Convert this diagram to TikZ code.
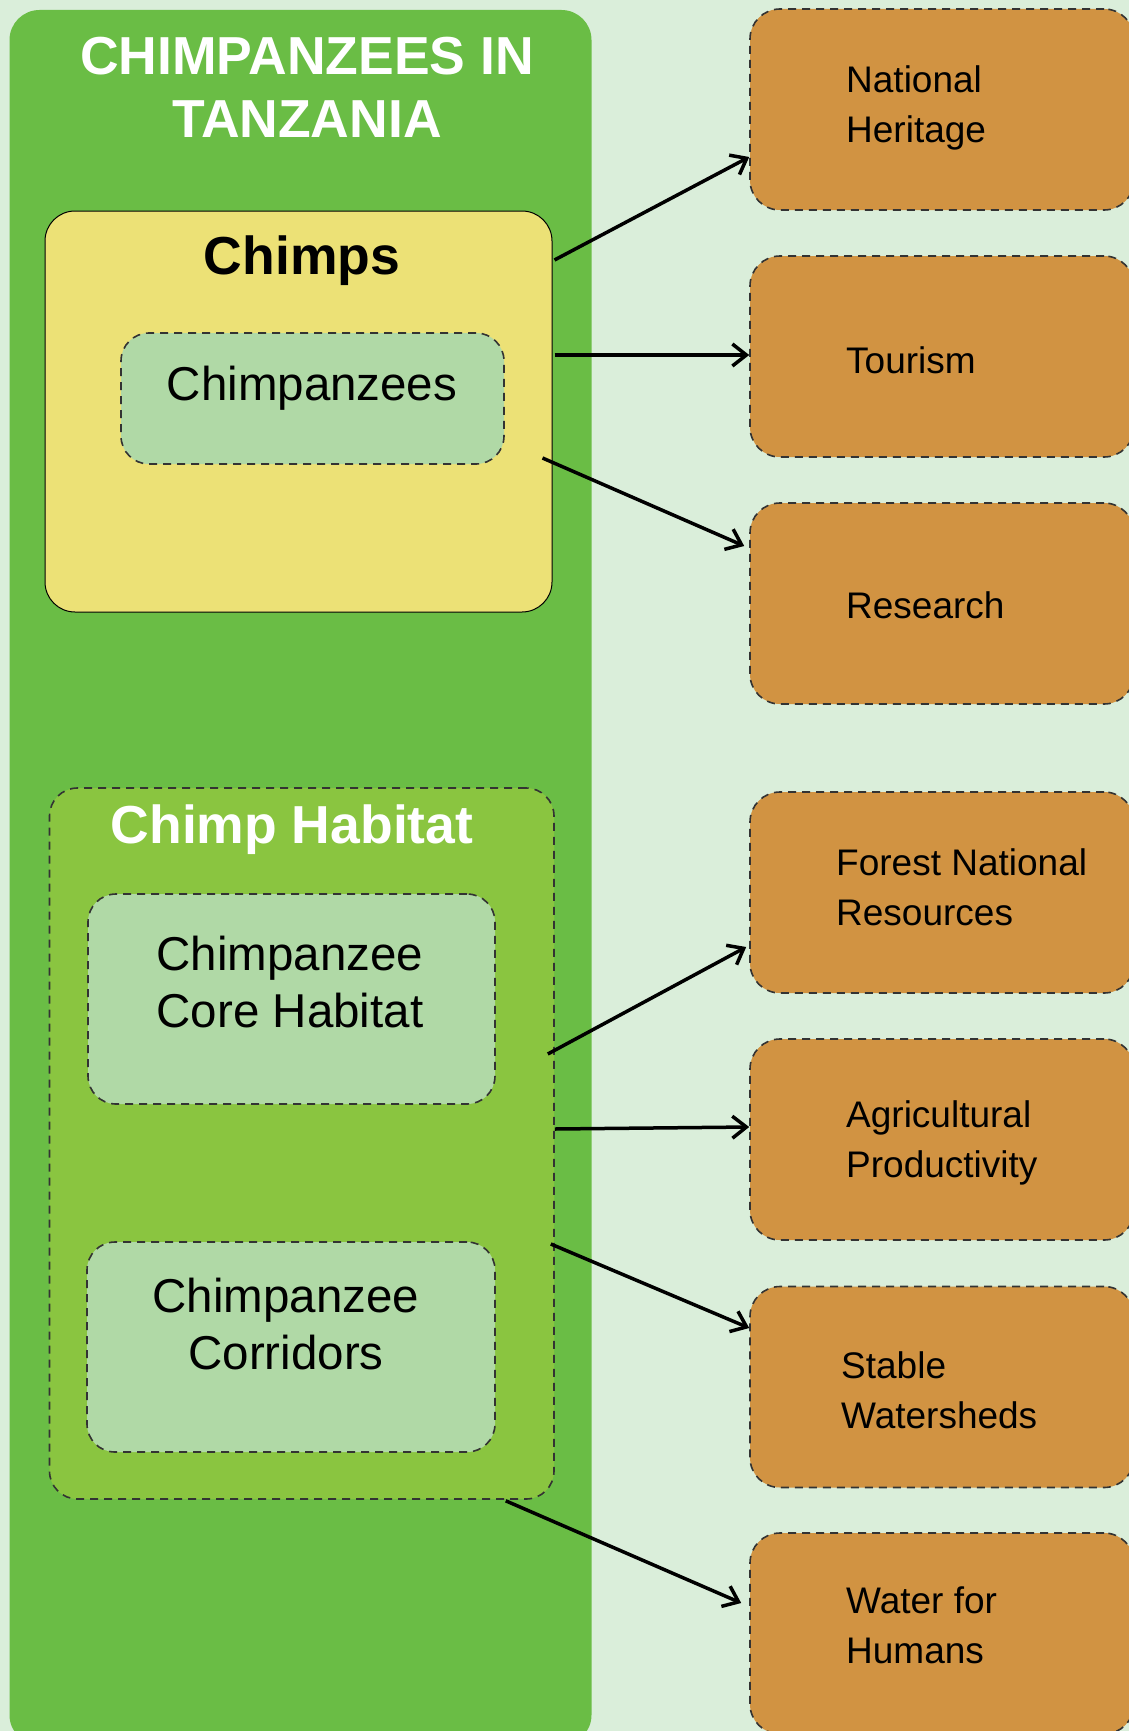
\documentclass[tikz,border=0pt]{standalone}
\usepackage{fontspec}
\setmainfont{Liberation Sans}
\usetikzlibrary{arrows.meta,calc}
\definecolor{bgc}{HTML}{DAEEDA}
\definecolor{maingreen}{HTML}{6ABD45}
\definecolor{chimpyellow}{HTML}{ECE176}
\definecolor{habgreen}{HTML}{8AC540}
\definecolor{palegreen}{HTML}{B0D9A6}
\definecolor{orangebox}{HTML}{D19342}
\definecolor{dashgray}{HTML}{333333}
\tikzset{
  boxbase/.style={rectangle, rounded corners=30pt, inner sep=0pt},
  mainbox/.style={boxbase, fill=maingreen},
  yellowbox/.style={boxbase, fill=chimpyellow, draw=black, line width=1pt},
  habbox/.style={boxbase, rounded corners=28pt, fill=habgreen, draw=dashgray, line width=1.6pt, dash pattern=on 8pt off 6pt},
  palebox/.style={boxbase, rounded corners=28pt, fill=palegreen, draw=dashgray, line width=1.6pt, dash pattern=on 8pt off 6pt},
  obox/.style={boxbase, fill=orangebox, draw=dashgray, line width=1.6pt, dash pattern=on 8pt off 6pt, minimum width=384pt, minimum height=201pt},
  bigtitle/.style={font=\fontsize{53.5}{63}\selectfont\bfseries, align=center, inner sep=0pt, anchor=base},
  innertext/.style={font=\fontsize{47.5}{57}\selectfont, align=center, inner sep=0pt, anchor=base},
  otext/.style={font=\fontsize{37}{50}\selectfont, align=left, inner sep=0pt, anchor=base west},
  conn/.style={-{Straight Barb[length=14pt,width=22pt,line width=3.5pt]}, line width=3.5pt, black},
}
\begin{document}
\begin{tikzpicture}[x=1pt,y=-1pt]
\useasboundingbox (0,0) rectangle (1129,1731);
\clip (0,0) rectangle (1129,1731);
\fill[bgc] (0,0) rectangle (1129,1731);

% left column
\node[mainbox, minimum width=582pt, minimum height=1735pt] (main) at (300.5,877.5) {};
\node[bigtitle, text=white] (title) at (307,138) {CHIMPANZEES IN\\TANZANIA};

\node[yellowbox, minimum width=507pt, minimum height=401pt] (chimps) at (298.5,411.5) {};
\node[bigtitle, text=black] (chimpstitle) at (302,274) {Chimps};
\node[palebox, minimum width=383pt, minimum height=131pt] (chimpbox) at (312.5,398.5) {};
\node[innertext] (chimptext) at (312,400) {Chimpanzees};

\node[habbox, minimum width=504.5pt, minimum height=711pt] (habitat) at (301.75,1143.5) {};
\node[bigtitle, text=white] (habtitle) at (292,843) {Chimp Habitat};
\node[palebox, minimum width=407pt, minimum height=210pt] (core) at (291.5,999) {};
\node[innertext] (coretext) at (290,1027) {Chimpanzee\\Core Habitat};
\node[palebox, minimum width=408pt, minimum height=210pt] (corr) at (291,1347) {};
\node[innertext] (corrtext) at (286,1369) {Chimpanzee\\Corridors};

% right column
\node[obox] (nh) at (942,109.5) {};
\node[otext] (nhtext) at (846,143) {National\\Heritage};
\node[obox] (tour) at (942,356.5) {};
\node[otext] (tourtext) at (846,373) {Tourism};
\node[obox] (res) at (942,603.5) {};
\node[otext] (restext) at (846,618) {Research};
\node[obox] (forest) at (942,892.5) {};
\node[otext] (foresttext) at (836,925) {Forest National\\Resources};
\node[obox] (agri) at (942,1139.5) {};
\node[otext] (agritext) at (846,1177) {Agricultural\\Productivity};
\node[obox] (water) at (942,1387) {};
\node[otext] (watertext) at (841,1428) {Stable\\Watersheds};
\node[obox] (humans) at (942,1633.5) {};
\node[otext] (humanstext) at (846,1663) {Water for\\Humans};

% connectors
\draw[conn] ($(chimps.east)+(2,-151.5)$) -- ($(nh.west)+(0,47.5)$);
\draw[conn] ($(chimps.east)+(2,-56.5)$) -- ($(tour.west)+(0,-1.5)$);
\draw[conn] ($(chimps.east)+(-10,46.5)$) -- ($(res.west)+(-5,-57.5)$);
\draw[conn] ($(habitat.east)+(-7,-89.5)$) -- ($(forest.west)+(-3,54.5)$);
\draw[conn] ($(habitat.east)+(0,-14.5)$) -- ($(agri.west)+(0,-12.5)$);
\draw[conn] ($(habitat.east)+(-4,100.5)$) -- ($(water.west)+(0,-59)$);
\draw[conn] ($(habitat.south)+(204,1)$) -- ($(humans.west)+(-8,-30.5)$);
\end{tikzpicture}
\end{document}
